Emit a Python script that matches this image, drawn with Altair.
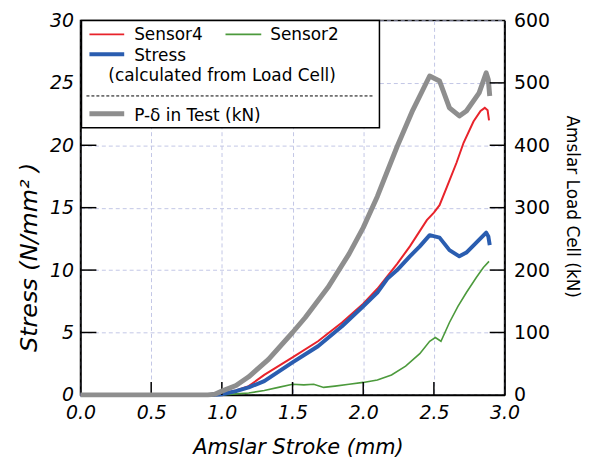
import altair as alt
import pandas as pd

# ---------------- data ----------------
stroke_p = [0, 0.5, 0.9, 0.95, 1.0, 1.1, 1.19, 1.33, 1.5, 1.59, 1.75, 1.9, 2.0, 2.1,
            2.24, 2.35, 2.47, 2.54, 2.61, 2.68, 2.73, 2.82, 2.87, 2.885, 2.895]
load_kN = [0, 0, 0, 1, 6, 15, 29, 57, 100, 124, 172, 226, 268, 318,
           398, 456, 511, 503, 460, 447, 455, 484, 516, 505, 479]

stroke_s4 = [0, 0.95, 1.0, 1.1, 1.19, 1.3, 1.5, 1.68, 1.85, 2.0, 2.1, 2.17, 2.24, 2.33, 2.45,
             2.5, 2.54, 2.59, 2.66, 2.71, 2.78, 2.83, 2.86, 2.88, 2.89]
sensor4 = [0, 0, 0.1, 0.35, 0.7, 1.6, 3.0, 4.3, 5.8, 7.3, 8.5, 9.5, 10.5, 11.9, 14.0,
           14.6, 15.2, 16.6, 18.6, 20.2, 21.9, 22.75, 23.0, 22.8, 22.0]

stroke_st = [0, 0.95, 1.0, 1.1, 1.19, 1.3, 1.5, 1.68, 1.85, 2.0, 2.1, 2.17, 2.24, 2.33, 2.40,
             2.47, 2.54, 2.61, 2.68, 2.73, 2.80, 2.87, 2.885, 2.895]
stress = [0, 0, 0.05, 0.3, 0.6, 1.1, 2.6, 3.9, 5.5, 7.1, 8.2, 9.3, 10.0, 11.1, 11.9,
          12.8, 12.6, 11.6, 11.1, 11.4, 12.2, 13.0, 12.7, 12.0]

stroke_s2 = [0, 1.0, 1.1, 1.19, 1.3, 1.4, 1.5, 1.58, 1.65, 1.72, 1.8, 1.9, 2.0, 2.1, 2.2,
             2.3, 2.4, 2.47, 2.51, 2.55, 2.61, 2.67, 2.73, 2.80, 2.85, 2.89]
sensor2 = [0, 0, 0.08, 0.15, 0.35, 0.6, 0.85, 0.8, 0.85, 0.6, 0.7, 0.85, 1.0, 1.2, 1.6,
           2.3, 3.3, 4.3, 4.6, 4.3, 5.8, 7.1, 8.2, 9.4, 10.2, 10.7]

x_ticks = [0.0, 0.5, 1.0, 1.5, 2.0, 2.5, 3.0]
y_ticks = [0, 5, 10, 15, 20, 25, 30]
kN_ticks = [0, 100, 200, 300, 400, 500, 600]

legend_labels = ["Sensor4", "Sensor2", "Stress", "(calculated from Load Cell)", "P-\u03b4 in Test (kN)"]

# ---------------- layout ----------------
W, H = 427, 377
FONT = "DejaVu Sans"
RED, GREEN, BLUE, GRAY = "#e8232b", "#4c9a3c", "#2a5db0", "#8e8e8e"


def frame(xs, ys, name):
    return pd.DataFrame({"stroke": xs, name: ys, "i": list(range(len(xs)))})


x_enc = alt.X(
    "stroke:Q",
    scale=alt.Scale(domain=[0, 3], nice=False, zero=False),
    axis=alt.Axis(
        values=x_ticks, format=".1f", labelFontStyle="italic", labelFontSize=19,
        labelFont=FONT, labelPadding=9, labelFlush=False, labelOverlap=False,
        title="Amslar Stroke (mm)", titleFont=FONT, titleFontSize=21,
        titleFontStyle="italic", titleFontWeight="normal", titleX=219, titleY=59,
        titleBaseline="alphabetic", titleAlign="center",
        ticks=False, grid=True, gridColor="#c3c7e6", gridDash=[4, 3], gridWidth=1,
        domainColor="black", domainWidth=1.5,
    ),
)


def y_left(field):
    return alt.Y(
        f"{field}:Q",
        scale=alt.Scale(domain=[0, 30], nice=False),
        axis=alt.Axis(
            values=y_ticks, labelFontStyle="italic", labelFontSize=19, labelFont=FONT,
            labelPadding=7, labelOverlap=False, labelFlush=False,
            title="Stress (N/mm\u00b2 )", titleFont=FONT, titleFontSize=24,
            titleFontStyle="italic", titleFontWeight="normal", titleAngle=270,
            titleX=-44, titleY=238, titleAlign="center", titleBaseline="alphabetic",
            ticks=False, grid=True, gridColor="#c3c7e6", gridDash=[4, 3], gridWidth=1,
            domainColor="black", domainWidth=1.5,
        ),
    )


y_right = alt.Y(
    "kN:Q",
    scale=alt.Scale(domain=[0, 600], nice=False),
    axis=alt.Axis(
        orient="right", values=kN_ticks, labelFontSize=19, labelFont=FONT,
        labelPadding=9, labelOverlap=False, labelFlush=False,
        title="Amslar Load Cell (kN)", titleFont=FONT, titleFontSize=17,
        titleFontWeight="normal", titleAngle=90, titleX=62, titleY=187,
        titleAlign="center", titleBaseline="alphabetic",
        ticks=False, grid=False, domainColor="black", domainWidth=1.5,
    ),
)

df_s2 = frame(stroke_s2, sensor2, "value")
df_s4 = frame(stroke_s4, sensor4, "value")
df_st = frame(stroke_st, stress, "value")
df_p = frame(stroke_p, load_kN, "kN")

green = alt.Chart(df_s2).mark_line(color=GREEN, strokeWidth=1.6).encode(
    x=x_enc, y=y_left("value"), order="i:Q")
red = alt.Chart(df_s4).mark_line(color=RED, strokeWidth=2).encode(
    x=x_enc, y=y_left("value"), order="i:Q")
blue = alt.Chart(df_st).mark_line(color=BLUE, strokeWidth=4, strokeJoin="round").encode(
    x=x_enc, y=y_left("value"), order="i:Q")

xt = alt.Chart(pd.DataFrame({"stroke": x_ticks[1:-1]})).mark_rule(
    color="black", strokeWidth=1.5).encode(x=x_enc, y=alt.value(H), y2=alt.value(H - 13))
yt = alt.Chart(pd.DataFrame({"value": y_ticks[1:-1]})).mark_rule(
    color="black", strokeWidth=1.5).encode(y=y_left("value"), x=alt.value(0), x2=alt.value(16))

left = alt.layer(green, red, blue, xt, yt)

gray = alt.Chart(df_p).mark_line(color=GRAY, strokeWidth=5, strokeJoin="round").encode(
    x=x_enc, y=y_right, order="i:Q")
rt = alt.Chart(pd.DataFrame({"kN": kN_ticks[1:-1]})).mark_rule(
    color="black", strokeWidth=1.5).encode(y=y_right, x=alt.value(W - 15), x2=alt.value(W))
right = alt.layer(gray, rt)

one = pd.DataFrame({"a": [0]})
box = alt.Chart(one).mark_rect(fill="white", stroke="black", strokeWidth=1.5).encode(
    x=alt.value(1), x2=alt.value(301), y=alt.value(0), y2=alt.value(108))


def lline(x1, x2, y, color, w, dash=None):
    kw = dict(color=color, strokeWidth=w)
    if dash:
        kw["strokeDash"] = dash
    return alt.Chart(one).mark_rule(**kw).encode(
        x=alt.value(x1), x2=alt.value(x2), y=alt.value(y))


def ltext(txt, x, y):
    return alt.Chart(one).mark_text(
        text=txt, align="left", baseline="alphabetic", font=FONT, fontSize=17,
        color="black").encode(x=alt.value(x), y=alt.value(y))


legend = alt.layer(
    box,
    lline(9, 44, 14, RED, 2), ltext(legend_labels[0], 54, 20),
    lline(146, 182, 14, GREEN, 2), ltext(legend_labels[1], 191, 20),
    lline(9, 44, 34, BLUE, 4), ltext(legend_labels[2], 54, 41),
    ltext(legend_labels[3], 28, 61),
    lline(6, 294, 76, "black", 1, [3, 2]),
    lline(9, 44, 94, GRAY, 5), ltext(legend_labels[4], 54, 101),
)

chart = alt.layer(left, right, legend).resolve_scale(y="independent").properties(
    width=W, height=H,
    padding={"left": 73, "top": 11, "right": 85, "bottom": 63},
    autosize=alt.AutoSizeParams(type="none"),
).configure_view(stroke="black", strokeWidth=1.5)

chart.save("out.html", embed_options={"renderer": "svg", "actions": False})
